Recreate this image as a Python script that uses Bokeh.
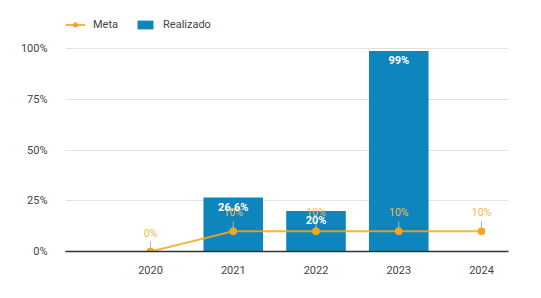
from bokeh.plotting import figure
from bokeh.models import (ColumnDataSource, Range1d, FixedTicker, PrintfTickFormatter,
                          Legend, LegendItem, LabelSet, BoxAnnotation)
from bokeh.embed import file_html
from bokeh.resources import INLINE
from bokeh.core.properties import value

years = [2020, 2021, 2022, 2023, 2024]
realizado_years = [2021, 2022, 2023]
realizado = [26.6, 20, 99]
realizado_labels = ["26.6%", "20%", "99%"]
meta = [0, 10, 10, 10, 10]
meta_labels = ["0%", "10%", "10%", "10%", "10%"]
y_ticks = [0, 25, 50, 75, 100]

BLUE = "#0e86bd"
ORANGE = "#f4a71e"
FONT = "Roboto"

p = figure(width=541, height=298, output_backend="svg", toolbar_location=None,
           x_range=Range1d(2018.973, 2024.326), y_range=Range1d(0, 115),
           min_border_left=65, min_border_right=33, min_border_top=18, min_border_bottom=47)
p.outline_line_color = None
p.background_fill_color = "white"

# page frame decoration (top strip and left rule of the original panel)
p.add_layout(BoxAnnotation(left=0, right=541, top=0, bottom=3,
                           left_units="canvas", right_units="canvas",
                           top_units="canvas", bottom_units="canvas",
                           fill_color="#cfdff0", fill_alpha=1, line_color=None, level="overlay"))
p.add_layout(BoxAnnotation(left=9, right=10, top=3, bottom=296,
                           left_units="canvas", right_units="canvas",
                           top_units="canvas", bottom_units="canvas",
                           fill_color="#ececec", fill_alpha=1, line_color=None, level="overlay"))

bsrc = ColumnDataSource(dict(x=realizado_years, top=realizado, lbl=realizado_labels))
bars = p.vbar(x="x", top="top", width=0.72, source=bsrc, fill_color=BLUE, line_color=None)

msrc = ColumnDataSource(dict(x=years, y=meta, y1=[m + 5 for m in meta], lbl=meta_labels))
p.segment(x0="x", y0="y", x1="x", y1="y1", source=msrc, line_color="#b8b0a0", line_width=1)
ml = p.line(x="x", y="y", source=msrc, line_color=ORANGE, line_width=2, line_alpha=0.85)
ms = p.scatter(x="x", y="y", source=msrc, size=7, fill_color=ORANGE, line_color=ORANGE)

p.add_layout(LabelSet(x="x", y="y", text="lbl", source=msrc, y_offset=12,
                      text_align="center", text_baseline="bottom", text_color="#f5b84a",
                      text_font=value(FONT), text_font_size="10.5px"))
p.add_layout(LabelSet(x="x", y="top", text="lbl", source=bsrc, y_offset=-3,
                      text_align="center", text_baseline="top", text_color="white",
                      text_font=value(FONT), text_font_size="11px", text_font_style="bold"))

p.xaxis.ticker = FixedTicker(ticks=years)
p.yaxis.ticker = FixedTicker(ticks=y_ticks)
p.yaxis.formatter = PrintfTickFormatter(format="%d%%")
p.yaxis.axis_line_color = None
p.yaxis.major_tick_line_color = None
p.yaxis.minor_tick_line_color = None
p.yaxis.major_label_standoff = 12
p.xaxis.axis_line_color = "#333333"
p.xaxis.axis_line_width = 1.5
p.xaxis.major_tick_line_color = None
p.xaxis.minor_tick_line_color = None
p.xaxis.major_label_standoff = 8
for ax in (p.xaxis, p.yaxis):
    ax.major_label_text_font = FONT
    ax.major_label_text_font_size = "11px"
    ax.major_label_text_color = "#444444"
p.xgrid.grid_line_color = None
p.ygrid.grid_line_color = "#e3e3e3"
p.ygrid.ticker = FixedTicker(ticks=y_ticks)

legend = Legend(items=[LegendItem(label="Meta", renderers=[ml, ms]),
                       LegendItem(label="Realizado", renderers=[bars])],
                location="top_left", orientation="horizontal", margin=0, padding=0,
                spacing=17, label_standoff=8, glyph_width=20, glyph_height=11,
                border_line_color=None, background_fill_alpha=0,
                label_text_font=FONT, label_text_font_size="11px", label_text_color="#444444")
p.add_layout(legend)

open("out.html", "w").write(file_html(p, INLINE))
